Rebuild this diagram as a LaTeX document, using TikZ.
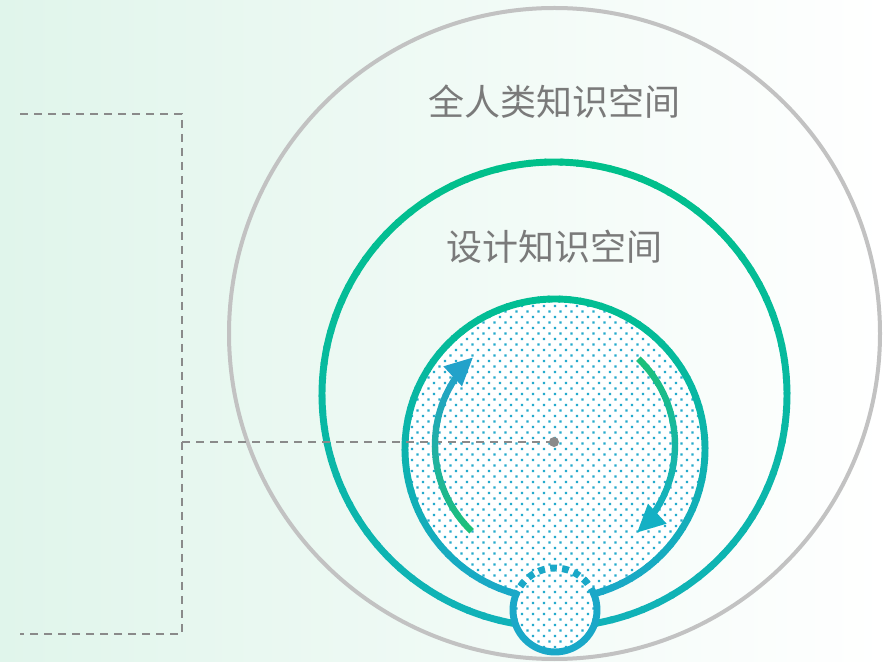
\documentclass[tikz,border=0pt]{standalone}
\usepackage{fontspec}
\newfontfamily\cjk{Noto Sans CJK SC}
\usetikzlibrary{arrows.meta}
\definecolor{bgA}{HTML}{E0F5EB}
\definecolor{grayring}{HTML}{C2C2C2}
\definecolor{gTop}{HTML}{00C08A}
\definecolor{gBot}{HTML}{10B2B8}
\definecolor{iTop}{HTML}{00BE92}
\definecolor{iBot}{HTML}{1AA8C8}
\definecolor{dotc}{HTML}{26AACC}
\definecolor{arG}{HTML}{1CC07A}
\definecolor{arB}{HTML}{22A2CA}
\definecolor{arT}{HTML}{14B0C4}
\definecolor{txt}{HTML}{7A7A7A}
\definecolor{dash}{HTML}{8A8A8A}
\tikzset{
  label text/.style={font=\cjk\fontsize{27pt}{30pt}\selectfont, text=txt, inner sep=0pt},
  guide/.style={draw=dash, line width=1.3pt, dash pattern=on 6pt off 4.5pt},
}
\newcommand\gradring[6]{% cx cy r lw topcolor bottomcolor
  \foreach \a in {0,4,...,356}{
    \pgfmathtruncatemacro\p{50*(1+sin(\a+2))}
    \draw[line width=#4, color=#5!\p!#6] ([shift={(\a:#3)}]#1,#2) arc (\a:\a+4.6:#3);
  }}
\newcommand\dotgrid[4]{% rows #1..#2, cols #3..#4
  \fill[dotc] \foreach \i [evaluate=\i as \yy using {212+\i*5.5},
                          evaluate=\i as \off using {mod(\i+100,2)*5.5}] in {#1,...,#2}{
     \foreach \j [evaluate=\j as \xx using {555+\j*11+\off}] in {#3,...,#4}{
       (\xx-1.2,\yy-1.2) rectangle ++(2.4,2.4)}};}
\begin{document}
\begin{tikzpicture}[x=0.75pt,y=0.75pt]
\useasboundingbox (0,0) rectangle (886,661);
\shade[left color=bgA, right color=white] (0,0) rectangle (886,661);
% rings
\coordinate (Cg) at (554.5,327.5);
\coordinate (Cm) at (554.5,266.5);
\coordinate (Ci) at (555,212);
\coordinate (Cs) at (555,51);
\coordinate (Ca) at (555,216);
\draw[grayring, line width=3pt] (Cg) circle (325.5);
\gradring{554.5}{266.5}{232.5}{5.2pt}{gTop}{gBot}
% inner circle fill
\fill[white] (Ci) circle (150);
\begin{scope}
  \clip (Ci) circle (147);
  \dotgrid{-28}{28}{-14}{14}
\end{scope}
\gradring{555}{212}{150}{5.2pt}{iTop}{iBot}
% labels
\node[label text] (outer) at (554,559) {全人类知识空间};
\node[label text] (design) at (554,414) {设计知识空间};
% guides
\coordinate (t1) at (20,547);
\coordinate (t2) at (182,547);
\coordinate (b1) at (20,27);
\coordinate (b2) at (182,27);
\coordinate (m1) at (182,219);
\node[circle, fill=dash, minimum size=7.5pt, inner sep=0pt] (dotc) at (554,219) {};
\draw[guide] (t1) -- (t2) -- (b2) -- (b1);
\draw[guide] (m1) -- (dotc.center);
% left arrow (green bottom -> blue top)
\foreach \k in {0,...,15}{
  \pgfmathsetmacro\aa{226-\k*5}
  \pgfmathtruncatemacro\p{100-\k*100/16}
  \draw[line width=4.8pt, color=arG!\p!arB] ([shift={(\aa:120)}]Ca) arc (\aa:\aa-5.6:120);
}
\draw[line width=4.8pt, arB, -{Triangle[length=21pt,width=19pt]}] ([shift={(146:120)}]Ca) arc (146:133:120);
% right arrow (green top -> teal bottom)
\foreach \k in {0,...,15}{
  \pgfmathsetmacro\aa{46-\k*5}
  \pgfmathtruncatemacro\p{100-\k*100/16}
  \draw[line width=4.8pt, color=arG!\p!arT] ([shift={(\aa:120)}]Ca) arc (\aa:\aa-5.6:120);
}
\draw[line width=4.8pt, arT, -{Triangle[length=21pt,width=19pt]}] ([shift={(-34:120)}]Ca) arc (-34:-47:120);
% small circle
\fill[white] (Cs) circle (42);
\begin{scope}
  \clip (Cs) circle (39);
  \dotgrid{-38}{-20}{-5}{5}
\end{scope}
\draw[iBot, line width=5.2pt, dash pattern=on 5pt off 4pt] ([shift={(22:42)}]Cs) arc (22:158:42);
\begin{scope}[even odd rule]
  \clip (0,0) rectangle (886,661) (Ci) circle (150);
  \draw[iBot, line width=5.2pt] (Cs) circle (42);
\end{scope}
\end{tikzpicture}
\end{document}
